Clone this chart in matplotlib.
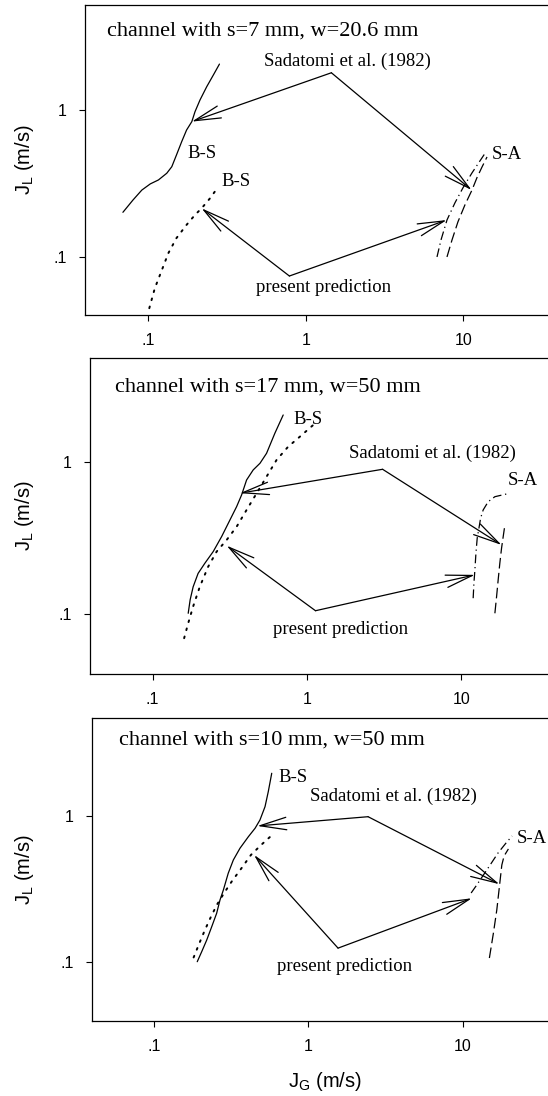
import matplotlib
matplotlib.use("Agg")
import matplotlib.pyplot as plt
from matplotlib.ticker import FixedLocator, FixedFormatter, NullLocator

# ── Data (m/s) ────────────────────────────────────────────────────────────────

# panel 1 : s=7 mm, w=20.6 mm
P1_BS_SAD_JG = [0.069, 0.080, 0.091, 0.103, 0.116, 0.131, 0.141, 0.151, 0.163,
                0.175, 0.189, 0.198, 0.213, 0.235, 0.259, 0.283]
P1_BS_SAD_JL = [0.202, 0.245, 0.286, 0.315, 0.335, 0.372, 0.412, 0.495, 0.610,
                0.731, 0.834, 0.974, 1.17, 1.44, 1.73, 2.05]
P1_BS_PRE_JG = [0.1015, 0.110, 0.122, 0.134, 0.151, 0.175, 0.198, 0.218, 0.247, 0.272]
P1_BS_PRE_JL = [0.0451, 0.0616, 0.082, 0.1065, 0.135, 0.166, 0.194, 0.215, 0.252, 0.291]
P1_SA_PRE_JG = [6.81, 7.22, 7.88, 8.85, 9.95, 11.36, 12.76, 13.93]
P1_SA_PRE_JL = [0.1005, 0.131, 0.179, 0.234, 0.296, 0.374, 0.451, 0.519]
P1_SA_SAD_JG = [7.88, 8.48, 9.25, 10.25, 11.36, 12.2, 13.15, 14.15]
P1_SA_SAD_JL = [0.1005, 0.131, 0.174, 0.227, 0.286, 0.346, 0.410, 0.480]
P1_SAD_VERTEX = (1.454, 1.79)
P1_SAD_TARGETS = [(0.189, 0.834), (11.3, 0.286)]
P1_PRE_VERTEX = (0.787, 0.0746)
P1_PRE_TARGETS = [(0.218, 0.215), (7.85, 0.179)]

# panel 2 : s=17 mm, w=50 mm
P2_BS_SAD_JG = [0.170, 0.175, 0.183, 0.197, 0.218, 0.247, 0.280, 0.317, 0.350,
                0.377, 0.406, 0.448, 0.496, 0.547, 0.619, 0.701]
P2_BS_SAD_JL = [0.101, 0.124, 0.151, 0.185, 0.216, 0.258, 0.324, 0.417, 0.510,
                0.609, 0.764, 0.890, 0.985, 1.146, 1.553, 2.05]
P2_BS_PRE_JG = [0.160, 0.170, 0.183, 0.202, 0.229, 0.260, 0.302, 0.350, 0.406,
                0.472, 0.547, 0.635, 0.755, 0.899, 1.161]
P2_BS_PRE_JL = [0.0692, 0.0869, 0.112, 0.151, 0.205, 0.258, 0.308, 0.376, 0.485,
                0.625, 0.804, 1.036, 1.267, 1.475, 1.852]
P2_SA_PRE_JG = [11.92, 12.05, 12.23, 12.42, 12.66, 13.04, 13.32, 13.84, 14.92, 16.48, 19.63]
P2_SA_PRE_JL = [0.127, 0.159, 0.195, 0.251, 0.316, 0.376, 0.428, 0.485, 0.550, 0.593, 0.618]
P2_SA_SAD_JG = [16.48, 16.9, 17.31, 17.74, 18.2, 18.65, 19.13]
P2_SA_SAD_JL = [0.101, 0.130, 0.168, 0.216, 0.271, 0.323, 0.386]
P2_SAD_VERTEX = (3.087, 0.899)
P2_SAD_TARGETS = [(0.367, 0.625), (18.2, 0.285)]
P2_PRE_VERTEX = (1.135, 0.105)
P2_PRE_TARGETS = [(0.3015, 0.282), (12.23, 0.181)]

# panel 3 : s=10 mm, w=50 mm
P3_BS_SAD_JG = [0.191, 0.204, 0.220, 0.237, 0.255, 0.268, 0.282, 0.303, 0.327,
                0.361, 0.409, 0.452, 0.486, 0.524, 0.550, 0.579]
P3_BS_SAD_JL = [0.101, 0.118, 0.142, 0.175, 0.216, 0.266, 0.312, 0.405, 0.499,
                0.600, 0.719, 0.821, 0.935, 1.152, 1.458, 1.946]
P3_BS_PRE_JG = [0.181, 0.196, 0.214, 0.234, 0.256, 0.285, 0.321, 0.366, 0.425, 0.494, 0.573]
P3_BS_PRE_JL = [0.108, 0.133, 0.166, 0.204, 0.247, 0.297, 0.359, 0.433, 0.540, 0.631, 0.727]
P3_SA_PRE_JG = [11.27, 12.14, 13.27, 14.95, 16.83, 18.97, 20.74]
P3_SA_PRE_JL = [0.297, 0.332, 0.382, 0.461, 0.557, 0.652, 0.727]
P3_SA_SAD_JG = [14.79, 15.70, 16.52, 17.17, 17.8, 18.41, 19.63]
P3_SA_SAD_JL = [0.107, 0.158, 0.228, 0.328, 0.461, 0.531, 0.593]
P3_SAD_VERTEX = (2.43, 0.984)
P3_SAD_TARGETS = [(0.467, 0.851), (17.17, 0.341)]
P3_PRE_VERTEX = (1.554, 0.125)
P3_PRE_TARGETS = [(0.445, 0.54), (11.39, 0.2735)]

TITLES = ["channel with s=7 mm, w=20.6 mm",
          "channel with s=17 mm, w=50 mm",
          "channel with s=10 mm, w=50 mm"]
XTICKS = [0.1, 1, 10]
XTICKLABELS = [".1", "1", "10"]
YTICKS = [0.1, 1]
YTICKLABELS = [".1", "1"]

# ── Layout (pixels of a 548 x 1096 canvas) ────────────────────────────────────

W, H = 548, 1096
# left, top, bottom (px), log10 xlim, log10 ylim, title anchor (axes frac)
LAYOUT = [
    (84.9, 5, 315, (-1.4025, 1.538), (-1.392, 0.713), (0.047, 0.900)),
    (89.8, 358, 674, (-1.407, 1.561), (-1.396, 0.6875), (0.0557, 0.893)),
    (91.6, 718, 1021, (-1.402, 1.549), (-1.400, 0.666), (0.0596, 0.911)),
]
LABEL_POS = [
    {"bs_sad": (0.220, 0.508), "bs_pre": (0.363, 0.326), "sa": (18.9, 0.495),
     "sad": (1.835, 2.13), "pre": (1.30, 0.0626)},
    {"bs_sad": (1.02, 1.90), "sa": (25.0, 0.764),
     "sad": (6.49, 1.146), "pre": (1.652, 0.0793)},
    {"bs_sad": (0.791, 1.827), "sa": (27.8, 0.701),
     "sad": (3.537, 1.362), "pre": (1.707, 0.0935)},
]

SERIF = ["Liberation Serif", "DejaVu Serif"]
SANS = ["Liberation Sans", "DejaVu Sans"]
LW = 0.9
DOTTED = (0, (0.9, 3.4))
DASHED = (0, (8.5, 3.5))
DASHDOT = (0, (7, 3, 1, 3))
ARROW = dict(arrowstyle="->,head_length=1.9,head_width=0.45",
             mutation_scale=10, lw=LW, color="black", shrinkA=0, shrinkB=0)

panels = [
    (P1_BS_SAD_JG, P1_BS_SAD_JL, P1_BS_PRE_JG, P1_BS_PRE_JL, P1_SA_PRE_JG, P1_SA_PRE_JL,
     P1_SA_SAD_JG, P1_SA_SAD_JL, P1_SAD_VERTEX, P1_SAD_TARGETS, P1_PRE_VERTEX, P1_PRE_TARGETS),
    (P2_BS_SAD_JG, P2_BS_SAD_JL, P2_BS_PRE_JG, P2_BS_PRE_JL, P2_SA_PRE_JG, P2_SA_PRE_JL,
     P2_SA_SAD_JG, P2_SA_SAD_JL, P2_SAD_VERTEX, P2_SAD_TARGETS, P2_PRE_VERTEX, P2_PRE_TARGETS),
    (P3_BS_SAD_JG, P3_BS_SAD_JL, P3_BS_PRE_JG, P3_BS_PRE_JL, P3_SA_PRE_JG, P3_SA_PRE_JL,
     P3_SA_SAD_JG, P3_SA_SAD_JL, P3_SAD_VERTEX, P3_SAD_TARGETS, P3_PRE_VERTEX, P3_PRE_TARGETS),
]

fig = plt.figure(figsize=(W / 100, H / 100), dpi=100)

for k, (data, lay, lab, title) in enumerate(zip(panels, LAYOUT, LABEL_POS, TITLES)):
    (bs_sx, bs_sy, bs_px, bs_py, sa_px, sa_py, sa_sx, sa_sy,
     sad_v, sad_t, pre_v, pre_t) = data
    left, top, bottom, xl, yl, tpos = lay

    ax = fig.add_axes([left / W, 1 - bottom / H, (W - left) / W, (bottom - top) / H])
    ax.set_xscale("log")
    ax.set_yscale("log")
    ax.set_xlim(10 ** xl[0], 10 ** xl[1])
    ax.set_ylim(10 ** yl[0], 10 ** yl[1])

    ax.plot(bs_sx, bs_sy, color="black", lw=LW, solid_capstyle="round")
    ax.plot(bs_px, bs_py, color="black", lw=1.4, ls=DOTTED, dash_capstyle="round")
    ax.plot(sa_px, sa_py, color="black", lw=LW, ls=DASHDOT)
    ax.plot(sa_sx, sa_sy, color="black", lw=LW, ls=DASHED)

    for tgt in sad_t:
        ax.annotate("", xy=tgt, xytext=sad_v, arrowprops=ARROW)
    for tgt in pre_t:
        ax.annotate("", xy=tgt, xytext=pre_v, arrowprops=ARROW)

    ax.text(*lab["sad"], "Sadatomi et al. (1982)", family=SERIF, fontsize=13.5,
            ha="center", va="center")
    ax.text(*lab["pre"], "present prediction", family=SERIF, fontsize=13.5,
            ha="center", va="center")
    ax.text(*lab["bs_sad"], "B-S", family=SERIF, fontsize=13.5, ha="center", va="center")
    if "bs_pre" in lab:
        ax.text(*lab["bs_pre"], "B-S", family=SERIF, fontsize=13.5, ha="center", va="center")
    ax.text(*lab["sa"], "S-A", family=SERIF, fontsize=13.5, ha="center", va="center")
    ax.text(*tpos, title, transform=ax.transAxes, family=SERIF, fontsize=16,
            ha="left", va="baseline")

    ax.xaxis.set_major_locator(FixedLocator(XTICKS))
    ax.xaxis.set_major_formatter(FixedFormatter(XTICKLABELS))
    ax.yaxis.set_major_locator(FixedLocator(YTICKS))
    ax.yaxis.set_major_formatter(FixedFormatter(YTICKLABELS))
    ax.xaxis.set_minor_locator(NullLocator())
    ax.yaxis.set_minor_locator(NullLocator())
    ax.tick_params(direction="out", length=4.5, width=0.8, pad=8.5, labelsize=11.5)
    for t in ax.get_xticklabels() + ax.get_yticklabels():
        t.set_family(SANS)
    for side in ("left", "bottom", "top"):
        ax.spines[side].set_linewidth(0.9)
    ax.spines["right"].set_visible(False)

    fig.text(25 / W, 1 - (top + bottom) / 2 / H, r"$\mathregular{J_L}$ (m/s)",
             rotation=90, ha="center", va="center", family=SANS, fontsize=14.5)

fig.text(325 / W, 1 - 1081.7 / H, r"$\mathregular{J_G}$ (m/s)",
         ha="center", va="center", family=SANS, fontsize=14.5)

fig.savefig("out.png", dpi=100)
